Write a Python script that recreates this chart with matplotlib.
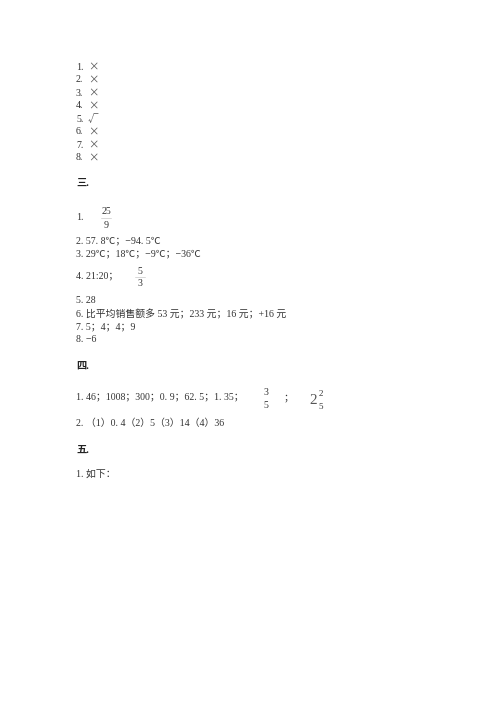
import matplotlib
matplotlib.use("Agg")
import matplotlib.pyplot as plt
from matplotlib.lines import Line2D

plt.rcParams['font.family'] = ['Liberation Serif', 'Noto Sans CJK SC', 'DejaVu Sans']

W, H = 500, 707
fig = plt.figure(figsize=(5, 7.07), dpi=100)
fig.patch.set_facecolor('white')

C = '#333333'
FS = 7.1

def T(x, y, s, size=FS, weight='normal', ha='left', color=C, family=None):
    kw = {}
    if family:
        kw['family'] = family
    fig.text(x / W, 1 - y / H, s, fontsize=size, fontweight=weight,
             ha=ha, va='center', color=color, **kw)

def frac(x, y, num, den, size=FS, bar=True):
    T(x, y - 6, num, size=size, ha='center')
    T(x, y + 7, den, size=size, ha='center')
    if bar:
        fig.add_artist(Line2D([(x - 5) / W, (x + 5) / W], [1 - y / H, 1 - y / H],
                              transform=fig.transFigure, color='#bbbbbb', lw=0.4))

# Section 2 judgments
judge_marks = ['×', '×', '×', '×', '√', '×', '×', '×']
for i, m in enumerate(judge_marks):
    y = 67 + 13 * i
    T(76, y, f'{i + 1}.')
    T(88, y, m, size=7.5, color='#555555', family=['Noto Sans CJK SC', 'DejaVu Sans'])

# Section headings
headings = ['三.', '四.', '五.']
heading_y = [183, 366, 450]
for h, y in zip(headings, heading_y):
    T(76, y, h, size=7.4, weight='bold', color='#222222')

# Section 3
T(76, 218, '1.')
frac(106, 218, '25', '9')
sec3_lines = ['2. 57. 8℃；−94. 5℃', '3. 29℃；18℃；−9℃；−36℃']
for i, s in enumerate(sec3_lines):
    T(76, 241 + 13 * i, s)
T(76, 276, '4. 21:20；')
frac(140, 277, '5', '3')
sec3_more = ['5. 28', '6. 比平均销售额多 53 元；233 元；16 元；+16 元', '7. 5；4；4；9', '8. −6']
for i, s in enumerate(sec3_more):
    T(76, 301 + 13 * i, s)

# Section 4
T(76, 397, '1. 46；1008；300；0. 9；62. 5；1. 35；')
frac(266, 398, '3', '5', bar=False)
T(284, 398, '；')
T(309, 400, '2', size=11, color='#555555')
frac(321, 400, '2', '5', size=6.5, bar=False)
T(76, 423, '2. （1）0. 4（2）5（3）14（4）36')

# Section 5
T(76, 474, '1. 如下：')

fig.savefig('out.png', dpi=100, facecolor='white')
